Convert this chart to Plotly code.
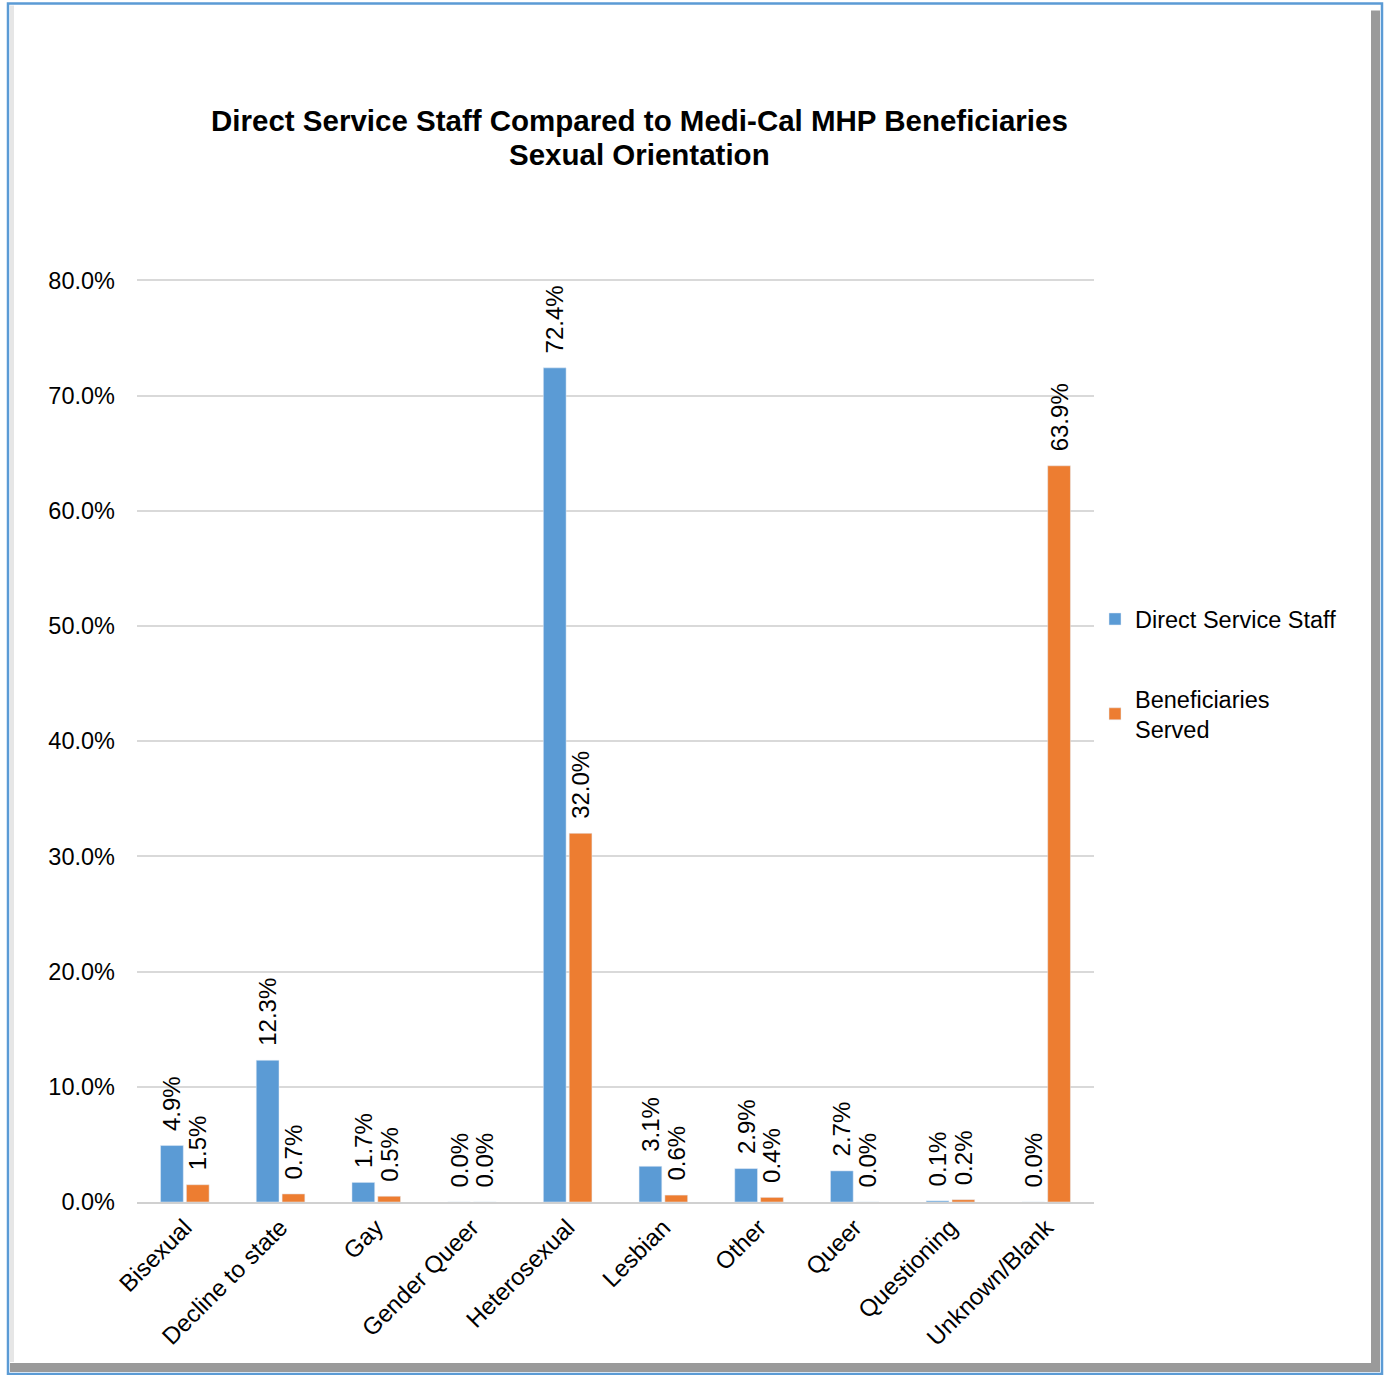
import plotly.graph_objects as go

categories = ["Bisexual", "Decline to state", "Gay", "Gender Queer", "Heterosexual",
              "Lesbian", "Other", "Queer", "Questioning", "Unknown/Blank"]
staff = [4.9, 12.3, 1.7, 0.0, 72.4, 3.1, 2.9, 2.7, 0.1, 0.0]
beneficiaries = [1.5, 0.7, 0.5, 0.0, 32.0, 0.6, 0.4, 0.0, 0.2, 63.9]
y_ticks = [0, 10, 20, 30, 40, 50, 60, 70, 80]
title_lines = ["Direct Service Staff Compared to Medi-Cal MHP Beneficiaries", "Sexual Orientation"]

W, H = 1385, 1375
L, R, B = 137, 1094, 1202  # plot area in pixels
Y_MAX = 80.2
T = B - (B - 280) * Y_MAX / 80  # so that 80% sits at y=280
FONT = "Liberation Sans, Arial, sans-serif"


def px(x):
    return (x - L) / (R - L)


def py(y):
    return (B - y) / (B - T)


fig = go.Figure()
for name, vals, color, grp in [
    ("Direct Service Staff", staff, "#5B9BD5", "a"),
    ("Beneficiaries<br>Served", beneficiaries, "#ED7D31", "b"),
]:
    fig.add_trace(go.Bar(
        x=categories, y=vals, name=name, marker_color=color, legendgroup=grp,
        text=[f"\u00a0\u2009{v:.1f}%" for v in vals], textposition="outside", textangle=-90,
        textfont=dict(size=24, color="black", family=FONT),
        constraintext="none", cliponaxis=False, hoverinfo="x+y",
    ))

# frame: blue outline with grey shadow on right / bottom
shapes = [
    dict(type="rect", xref="paper", yref="paper", x0=px(10), x1=px(1380), y0=py(1372), y1=py(1363),
         fillcolor="#9a9a9a", line_width=0, layer="below"),
    dict(type="rect", xref="paper", yref="paper", x0=px(1371), x1=px(1380), y0=py(1372), y1=py(10),
         fillcolor="#9a9a9a", line_width=0, layer="below"),
    dict(type="rect", xref="paper", yref="paper", x0=px(10), x1=px(14), y0=py(1362), y1=py(5),
         fillcolor="#e6e6e6", line_width=0, layer="below"),
    dict(type="rect", xref="paper", yref="paper", x0=px(8), x1=px(1382), y0=py(1374), y1=py(3),
         line=dict(color="#5B9BD5", width=2.5), layer="above"),
]

# two-line title as annotations (tighter line spacing than layout.title)
for line, yc in zip(title_lines, [120, 154]):
    fig.add_annotation(
        text=f"<b>{line}</b>", xref="paper", yref="paper", x=px(639), y=py(yc),
        xanchor="center", yanchor="middle", showarrow=False,
        font=dict(size=29.5, family=FONT, color="black"),
    )

fig.update_layout(
    width=W, height=H,
    margin=dict(l=L, r=W - R, t=T, b=H - B),
    paper_bgcolor="white", plot_bgcolor="white",
    font=dict(family=FONT, size=23, color="black"),
    barmode="group", bargap=0.46, bargroupgap=0.12,
    legend=dict(x=px(1095), xanchor="left", y=py(597), yanchor="top",
                font=dict(size=23.5), tracegroupgap=46, itemwidth=30,
                bgcolor="rgba(0,0,0,0)"),
    shapes=shapes,
    showlegend=True,
)
fig.update_yaxes(
    range=[0, Y_MAX], tickvals=y_ticks, ticktext=[f"{v:.1f}%" for v in y_ticks],
    showgrid=True, gridcolor="#d9d9d9", gridwidth=1.5, zeroline=False,
    showline=False, ticklabelstandoff=21, tickfont=dict(size=23.5),
)
fig.update_xaxes(
    tickangle=-45, showline=True, linecolor="#d0d0d0", linewidth=2,
    tickfont=dict(size=24), ticks="",
)

fig.write_html("out.html", config={"displayModeBar": False},
               post_script="document.body.style.margin='0';")
